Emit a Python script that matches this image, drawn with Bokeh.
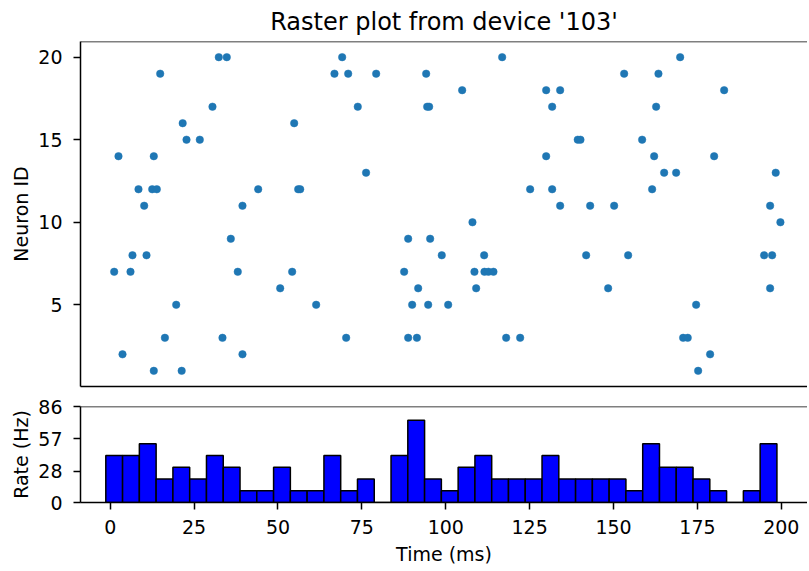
from bokeh.plotting import figure
from bokeh.layouts import column
from bokeh.models import Range1d, FixedTicker, Span
from bokeh.embed import file_html
from bokeh.resources import INLINE

# ---- data ----
spike_times = [
    1.19, 2.47, 3.67, 6.05, 6.64, 8.43, 10.13, 10.82, 12.99, 12.52, 13.89, 12.99,
    14.90, 16.30, 19.67, 21.30, 21.60, 22.74, 26.70, 30.48, 32.36, 34.74, 33.46,
    35.94, 38.02, 39.42, 39.42, 44.10,
    69.13, 66.83, 70.92, 79.26, 94.16, 116.81, 104.89, 73.78, 94.46, 95.05, 54.83,
    76.25, 56.02, 56.62, 125.15, 107.96, 88.80, 95.35, 98.81, 111.44, 54.23, 87.60,
    108.55, 111.53, 112.72, 114.21, 50.66, 91.78, 109.06, 61.38, 89.99, 94.76,
    100.72, 70.32, 88.80, 91.40, 118.00, 122.17,
    169.85, 153.16, 163.38, 129.92, 134.09, 182.96, 131.71, 162.69, 139.33, 140.14,
    158.52, 129.92, 162.10, 179.98, 165.08, 168.65, 198.33, 131.71, 161.50, 134.09,
    143.03, 150.18, 196.66, 199.73, 141.84, 154.35, 194.87, 197.26, 148.39, 196.66,
    174.61, 170.74, 172.11, 178.78, 175.21,
]
neuron_ids = [
    7, 14, 2, 7, 8, 12, 11, 8, 14, 12, 12, 1,
    19, 3, 5, 1, 16, 15, 15, 17, 20, 20, 3,
    9, 7, 11, 2, 12,
    20, 19, 19, 19, 19, 20, 18, 17, 17, 17, 16,
    13, 12, 12, 12, 10, 9, 9, 8, 8, 7, 7,
    7, 7, 7, 7, 6, 6, 6, 5, 5, 5,
    5, 3, 3, 3, 3, 3,
    20, 19, 19, 18, 18, 18, 17, 17, 15, 15,
    15, 14, 14, 14, 13, 13, 13, 12, 12, 11,
    11, 11, 11, 10, 8, 8, 8, 8, 6, 6,
    5, 3, 3, 2, 1,
]
# spikes per 5 ms bin (40 bins)
hist_counts = [4, 4, 5, 2, 3, 2, 4, 3, 1, 1, 3, 1, 1, 4, 1, 2, 0, 4, 7, 2,
               1, 3, 4, 2, 2, 2, 4, 2, 2, 2, 2, 1, 5, 3, 3, 2, 1, 0, 1, 5]
bin_width_ms = 5.0
n_neurons = 19
raster_yticks = [5, 10, 15, 20]
rate_ticks = [0, 28, 57, 86]
time_ticks = [0, 25, 50, 75, 100, 125, 150, 175, 200]
title_text = "Raster plot from device '103'"

# derived
t_first = min(spike_times)
bin_centers = [t_first + bin_width_ms * i for i in range(len(hist_counts))]
rates = [1000.0 * c / (bin_width_ms * n_neurons) for c in hist_counts]

FONT = "DejaVu Sans"
TICK_PX = "19px"
x_range = Range1d(-8.85, 207.8)


def style_axis(ax):
    ax.axis_line_color = "black"
    ax.axis_line_width = 1.5
    ax.major_tick_line_color = "black"
    ax.major_tick_line_width = 1.5
    ax.major_tick_out = 7
    ax.major_tick_in = 0
    ax.minor_tick_out = 0
    ax.minor_tick_in = 0
    ax.major_label_text_font = FONT
    ax.major_label_text_font_size = TICK_PX
    ax.major_label_text_color = "black"
    ax.axis_label_text_font = FONT
    ax.axis_label_text_font_size = TICK_PX
    ax.axis_label_text_font_style = "normal"
    ax.axis_label_text_color = "black"


# ---- raster ----
p1 = figure(frame_width=727, frame_height=345,
            min_border_left=80, min_border_right=0, min_border_top=38, min_border_bottom=10,
            x_range=x_range, y_range=Range1d(0.05, 20.95),
            output_backend="svg", toolbar_location=None, title=title_text)
p1.title.align = "center"
p1.title.text_font = FONT
p1.title.text_font_size = "24px"
p1.title.text_font_style = "normal"
p1.title.text_color = "black"
p1.title.standoff = 11
p1.grid.visible = False
p1.outline_line_color = None
p1.background_fill_color = "white"
p1.border_fill_color = "white"

p1.scatter(spike_times, neuron_ids, size=7.5, fill_color="#1f77b4", line_color="#1f77b4", line_width=0.5)

style_axis(p1.yaxis[0])
p1.yaxis.ticker = FixedTicker(ticks=raster_yticks)
p1.yaxis.major_label_standoff = 11
p1.yaxis.axis_label = "Neuron ID"
p1.yaxis.axis_label_standoff = 3
style_axis(p1.xaxis[0])
p1.xaxis.ticker = FixedTicker(ticks=[])
p1.xaxis.major_tick_out = 0
p1.xaxis.major_label_text_font_size = "0px"
p1.xaxis.major_label_standoff = 0
p1.add_layout(Span(location=20.95, dimension="width", line_color="black", line_width=1.5))

# ---- histogram ----
p2 = figure(frame_width=727, frame_height=96,
            min_border_left=80, min_border_right=0, min_border_top=10, min_border_bottom=66,
            x_range=x_range, y_range=Range1d(rate_ticks[0], rate_ticks[-1]),
            output_backend="svg", toolbar_location=None)
p2.grid.visible = False
p2.outline_line_color = None
p2.vbar(x=bin_centers, top=rates, width=bin_width_ms, bottom=0,
        fill_color="#0000ff", line_color="black", line_width=1.5)

style_axis(p2.yaxis[0])
p2.yaxis.ticker = FixedTicker(ticks=rate_ticks)
p2.yaxis.major_label_standoff = 11
p2.yaxis.axis_label = "Rate (Hz)"
p2.yaxis.axis_label_standoff = 3
style_axis(p2.xaxis[0])
p2.xaxis.ticker = FixedTicker(ticks=time_ticks)
p2.xaxis.major_label_standoff = 10
p2.xaxis.axis_label = "Time (ms)"
p2.xaxis.axis_label_standoff = 6
p2.add_layout(Span(location=rate_ticks[-1], dimension="width", line_color="black", line_width=1.5))

layout = column(p1, p2, spacing=0)
open("out.html", "w").write(file_html(layout, INLINE))
